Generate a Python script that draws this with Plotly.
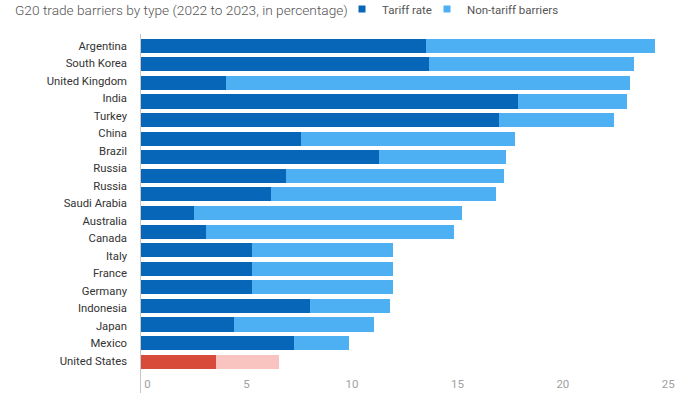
import plotly.graph_objects as go

# Bars (18 rows, top to bottom)
countries = ["Argentina", "South Korea", "United Kingdom", "India", "Turkey", "China",
             "Brazil", "Russia", "Saudi Arabia", "Australia", "Canada", "Italy",
             "France", "Germany", "Indonesia", "Japan", "Mexico", "United States"]
tariff = [13.49, 13.63, 4.01, 17.87, 16.97, 7.57, 11.28, 6.87, 6.16, 2.49, 3.08,
          5.26, 5.26, 5.26, 7.99, 4.39, 7.25, 3.55]
total = [24.39, 23.39, 23.19, 23.06, 22.43, 17.75, 17.28, 17.23, 16.81, 15.24, 14.86,
         11.97, 11.97, 11.97, 11.82, 11.06, 9.84, 6.52]
non_tariff = [round(t - a, 2) for t, a in zip(total, tariff)]

# Row labels as printed on the chart (19 labels)
row_labels = ["Argentina", "South Korea", "United Kingdom", "India", "Turkey", "China",
              "Brazil", "Russia", "Russia", "Saudi Arabia", "Australia", "Canada",
              "Italy", "France", "Germany", "Indonesia", "Japan", "Mexico", "United States"]

x_ticks = [0, 5, 10, 15, 20, 25]

DARK = "#0866b8"
LIGHT = "#4cb0f2"
RED = "#d84a3a"
PINK = "#f9c4bf"

dark_colors = [RED if c == "United States" else DARK for c in countries]
light_colors = [PINK if c == "United States" else LIGHT for c in countries]

fig = go.Figure()
fig.add_bar(y=countries, x=tariff, orientation="h", name="Tariff rate",
            marker=dict(color=dark_colors, line=dict(width=0)), showlegend=False)
fig.add_bar(y=countries, x=non_tariff, orientation="h", name="Non-tariff barriers",
            marker=dict(color=light_colors, line=dict(width=0)), showlegend=False)

# legend entries
fig.add_scatter(x=[None], y=[None], mode="markers", name="Tariff rate", legend="legend",
                marker=dict(symbol="square", size=7, color=DARK))
fig.add_scatter(x=[None], y=[None], mode="markers", name="Non-tariff barriers", legend="legend2",
                marker=dict(symbol="square", size=7, color=LIGHT))

# label axis carrier
fig.add_scatter(x=[0] * len(row_labels), y=list(range(len(row_labels))), yaxis="y2",
                mode="markers", marker=dict(opacity=0, size=1), hoverinfo="skip",
                showlegend=False)

top, bottom = 34, 393
H = bottom - top
n = len(countries)
row_px = (361.7 - 45.7) / (n - 1)
b0 = (45.7 - top) / row_px
y_range = [-b0 + H / row_px, -b0]

lab_px = (361.0 - 45.7) / (len(row_labels) - 1)
l0 = (45.7 - top) / lab_px
y2_range = [-l0 + H / lab_px, -l0]

xmax = 25.6
pxu = 21.1
left = 140.7
right = 700 - (left + xmax * pxu)

font = "Roboto, 'Noto Sans', sans-serif"
legend_common = dict(orientation="h", xref="container", yref="container",
                     xanchor="left", y=1 - 9 / 394, yanchor="middle",
                     font=dict(family=font, size=11.5, color="#555"),
                     itemwidth=30, bgcolor="rgba(0,0,0,0)")

fig.update_layout(
    width=700, height=394,
    margin=dict(l=left, r=right, t=top, b=394 - bottom, pad=0, autoexpand=False),
    barmode="stack", bargap=0.24,
    plot_bgcolor="white", paper_bgcolor="white",
    font=dict(family=font, size=12, color="#333"),
    title=dict(text="G20 trade barriers by type (2022 to 2023, in percentage)",
               xref="container", yref="container", x=15 / 700, xanchor="left",
               y=1 - 10.5 / 394, yanchor="middle",
               font=dict(family=font, size=13.7, color="#555", weight=300)),
    legend=dict(x=342 / 700, **legend_common),
    legend2=dict(x=427 / 700, **legend_common),
    xaxis=dict(range=[0, xmax], tickvals=x_ticks,
               ticktext=["\u2007\u20070" if v == 0 else str(v) for v in x_ticks],
               showgrid=False, zeroline=False, showline=False, ticks="",
               ticklabelposition="inside", ticklabeloverflow="allow",
               tickfont=dict(size=11.5, color="#a0a0a0"),
               automargin=False, fixedrange=True),
    yaxis=dict(range=y_range, type="category", categoryorder="array",
               categoryarray=countries, showticklabels=False, ticks="",
               showgrid=False, zeroline=False, showline=True, linecolor="#c8c8c8",
               linewidth=1, automargin=False, fixedrange=True),
    yaxis2=dict(overlaying="y", side="left", range=y2_range, tickvals=list(range(len(row_labels))),
                ticktext=row_labels, showgrid=False, zeroline=False, showline=False,
                ticks="", ticklabelstandoff=13, tickfont=dict(size=11.3, color="#333"),
                automargin=False, fixedrange=True),
)

fig.write_html(
    "out.html",
    config={"displayModeBar": False},
    post_script="document.body.style.margin='0';document.body.style.overflow='hidden';",
)
